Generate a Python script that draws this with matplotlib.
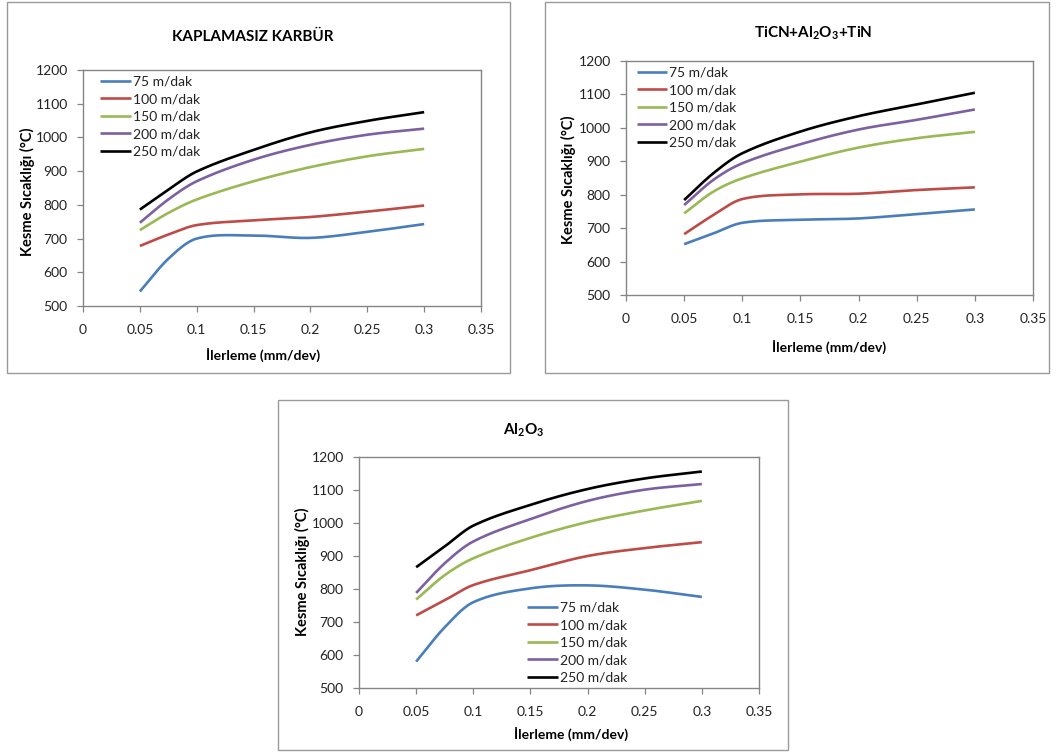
import numpy as np
import matplotlib
matplotlib.use("Agg")
import matplotlib.pyplot as plt
from matplotlib.patches import Rectangle

plt.rcParams['font.family'] = ['Lato', 'DejaVu Sans']
plt.rcParams['mathtext.fontset'] = 'custom'
plt.rcParams['mathtext.rm'] = 'Lato:bold'
plt.rcParams['mathtext.bf'] = 'Lato:bold'

# Feed rates (mm/dev)
feed = [0.05, 0.075, 0.1, 0.15, 0.2, 0.25, 0.3]
speeds = ["75 m/dak", "100 m/dak", "150 m/dak", "200 m/dak", "250 m/dak"]
colors = ["#4A7EBB", "#BE4B48", "#98B954", "#7D60A0", "#000000"]

# Cutting temperatures (°C) - uncoated carbide
uncoated_75 = [543, 640, 700, 709, 702, 720, 743]
uncoated_100 = [678, 712, 740, 754, 764, 780, 798]
uncoated_150 = [725, 776, 816, 870, 912, 944, 966]
uncoated_200 = [747, 816, 870, 934, 978, 1008, 1026]
uncoated_250 = [786, 845, 899, 963, 1015, 1049, 1075]

# TiCN+Al2O3+TiN coated
multi_75 = [652, 684, 716, 725, 729, 742, 756]
multi_100 = [682, 739, 787, 801, 803, 814, 822]
multi_150 = [744, 809, 849, 899, 941, 969, 988]
multi_200 = [769, 844, 894, 951, 995, 1024, 1055]
multi_250 = [784, 864, 924, 989, 1035, 1070, 1105]

# Al2O3 coated
alumina_75 = [580, 684, 760, 802, 811, 798, 776]
alumina_100 = [720, 766, 812, 857, 900, 924, 942]
alumina_150 = [768, 842, 893, 955, 1003, 1038, 1067]
alumina_200 = [788, 878, 944, 1012, 1067, 1101, 1118]
alumina_250 = [866, 929, 992, 1055, 1103, 1135, 1156]

W, H = 1058, 753


def smooth(x, y, n=24):
    """Cubic Hermite curve through the points with central-difference slopes."""
    x = np.asarray(x, float)
    y = np.asarray(y, float)
    m = np.empty_like(y)
    m[1:-1] = (y[2:] - y[:-2]) / (x[2:] - x[:-2])
    m[0] = (y[1] - y[0]) / (x[1] - x[0])
    m[-1] = (y[-1] - y[-2]) / (x[-1] - x[-2])
    xs, ys = [], []
    for i in range(len(x) - 1):
        h = x[i + 1] - x[i]
        t = np.linspace(0, 1, n, endpoint=False)
        h00 = 2 * t ** 3 - 3 * t ** 2 + 1
        h10 = t ** 3 - 2 * t ** 2 + t
        h01 = -2 * t ** 3 + 3 * t ** 2
        h11 = t ** 3 - t ** 2
        xs.append(x[i] + t * h)
        ys.append(h00 * y[i] + h10 * h * m[i] + h01 * y[i + 1] + h11 * h * m[i + 1])
    xs.append([x[-1]])
    ys.append([y[-1]])
    return np.concatenate(xs), np.concatenate(ys)


fig = plt.figure(figsize=(W / 100, H / 100), dpi=100)


def px_rect(l, t, r, b):
    return [l / W, 1 - b / H, (r - l) / W, (b - t) / H]


def frame(l, t, r, b):
    fig.patches.append(Rectangle((l / W, 1 - b / H), (r - l) / W, (b - t) / H,
                                 transform=fig.transFigure, fill=False,
                                 edgecolor="#9a9a9a", linewidth=1.0))


def panel(rect, series, title, title_xy, xlabel_xy, ylabel_xy, legend_anchor):
    ax = fig.add_axes(px_rect(*rect))
    for vals, lab, c in zip(series, speeds, colors):
        sx, sy = smooth(feed, vals)
        ax.plot(sx, sy, color=c, lw=1.9, label=lab, solid_capstyle='butt')
    ax.set_xlim(0, 0.35)
    ax.set_ylim(500, 1200)
    ax.set_xticks(np.arange(0, 0.351, 0.05))
    ax.set_xticklabels(["0", "0.05", "0.1", "0.15", "0.2", "0.25", "0.3", "0.35"])
    ax.set_yticks(np.arange(500, 1201, 100))
    for s in ax.spines.values():
        s.set_color("#858585")
        s.set_linewidth(1.0)
    ax.tick_params(axis='both', direction='out', length=4, width=0.9,
                   color="#858585", labelsize=10, labelcolor="#222222")
    ax.tick_params(axis='x', pad=9)
    ax.tick_params(axis='y', pad=7)
    leg = ax.legend(loc='upper left', bbox_to_anchor=legend_anchor, frameon=False,
                    fontsize=10, handlelength=2.2, handletextpad=0.15,
                    labelspacing=0.4, borderaxespad=0)
    for t in leg.get_texts():
        t.set_color("#222222")
    fig.text(title_xy[0] / W, 1 - title_xy[1] / H, title, ha='center', va='center',
             fontsize=11, fontweight='bold')
    fig.text(xlabel_xy[0] / W, 1 - xlabel_xy[1] / H, "İlerleme (mm/dev)", ha='center',
             va='center', fontsize=10, fontweight='bold')
    fig.text(ylabel_xy[0] / W, 1 - ylabel_xy[1] / H, "Kesme Sıcaklığı (°C)", ha='center',
             va='center', rotation=90, fontsize=10.5, fontweight='bold')
    return ax


frame(7, 2, 510, 373)
frame(545, 2, 1049, 373)
frame(278, 400, 788, 750)

panel((83, 70, 481, 306),
      [uncoated_75, uncoated_100, uncoated_150, uncoated_200, uncoated_250],
      "KAPLAMASIZ KARBÜR", (253, 37), (263, 355), (27, 192), (0.03, 1.0))

panel((626, 61, 1033, 295),
      [multi_75, multi_100, multi_150, multi_200, multi_250],
      r"TiCN+Al$_2$O$_3$+TiN", (813, 33), (829, 347), (568, 180), (0.013, 1.0))

panel((359, 457, 759, 688),
      [alumina_75, alumina_100, alumina_150, alumina_200, alumina_250],
      r"Al$_2$O$_3$", (524, 430), (571, 734), (302, 572), (0.406, 0.398))

fig.savefig("out.png", dpi=100, facecolor="white")
